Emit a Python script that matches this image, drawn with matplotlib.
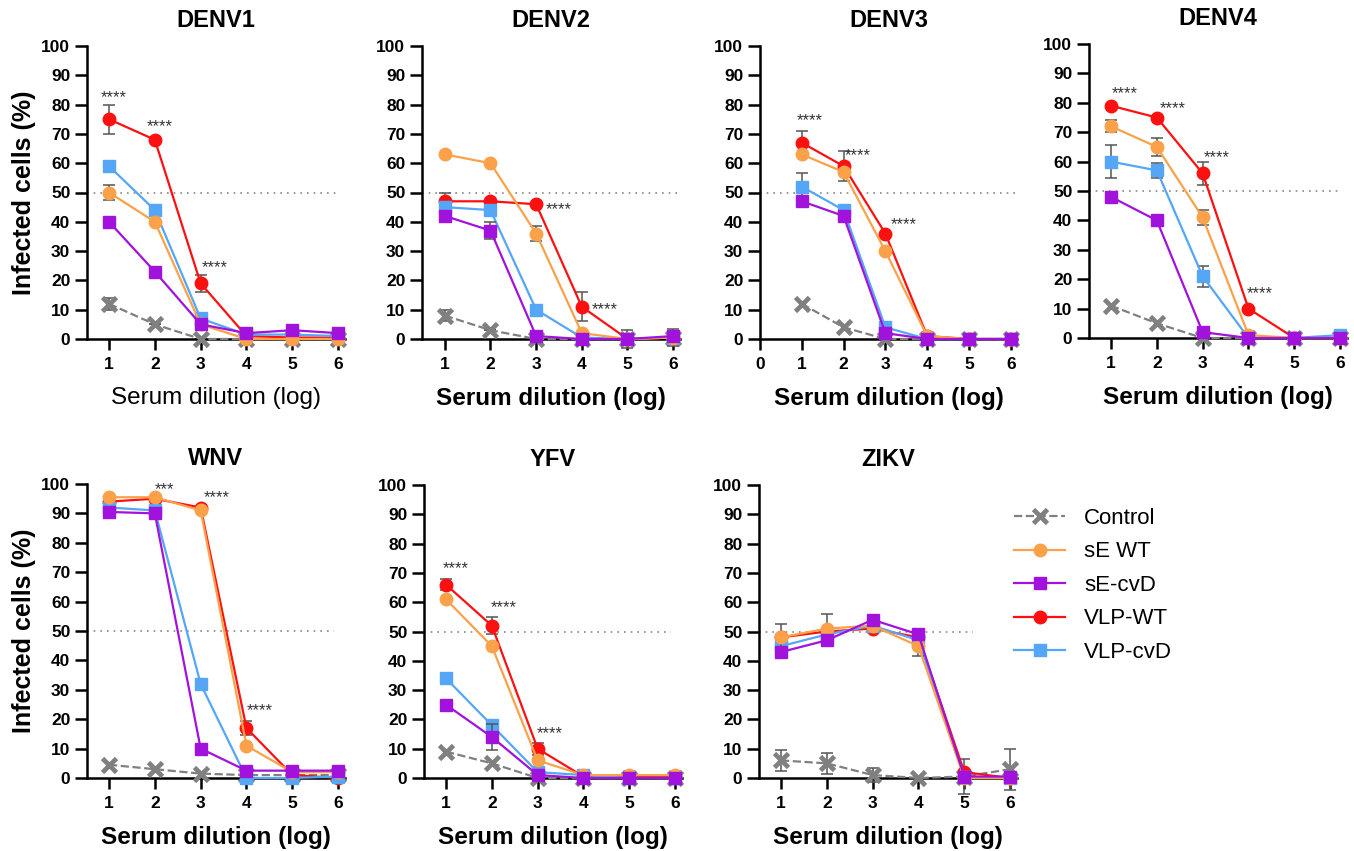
import numpy as np
import matplotlib
matplotlib.use("Agg")
import matplotlib.pyplot as plt

plt.rcParams['font.family'] = ['Liberation Sans', 'DejaVu Sans']

# dilution steps (log)
dilution = [1, 2, 3, 4, 5, 6]

series_names = ["Control", "sE WT", "sE-cvD", "VLP-WT", "VLP-cvD"]

# mean infected cells (%) per panel, order follows series_names
denv1 = {
    "Control": [12, 5, 0, 0, 0, 0],
    "sE WT": [50, 40, 5, 0, 0, 0],
    "sE-cvD": [40, 23, 5, 2, 3, 2],
    "VLP-WT": [75, 68, 19, 1, 0.5, 0.5],
    "VLP-cvD": [59, 44, 7, 1.5, 1.5, 1],
}
denv2 = {
    "Control": [8, 3, 0, 0, 0, 0.5],
    "sE WT": [63, 60, 36, 2, 0, 0.5],
    "sE-cvD": [42, 37, 1, 0, 0, 1],
    "VLP-WT": [47, 47, 46, 11, 0, 0.5],
    "VLP-cvD": [45, 44, 10, 0.5, 0, 0.5],
}
denv3 = {
    "Control": [12, 4, 0, 0, 0, 0],
    "sE WT": [63, 57, 30, 1, 0, 0],
    "sE-cvD": [47, 42, 2, 0, 0, 0],
    "VLP-WT": [67, 59, 36, 1, 0, 0],
    "VLP-cvD": [52, 44, 4, 0, 0, 0],
}
denv4 = {
    "Control": [11, 5, 0, 0, 0, 0],
    "sE WT": [72, 65, 41, 1, 0, 0],
    "sE-cvD": [48, 40, 2, 0, 0, 0],
    "VLP-WT": [79, 75, 56, 10, 0, 0],
    "VLP-cvD": [60, 57, 21, 0, 0, 1],
}
wnv = {
    "Control": [4.5, 3, 1.5, 1, 1, 1],
    "sE WT": [95.5, 95.5, 91, 11, 2, 2],
    "sE-cvD": [90.5, 90, 10, 2.5, 2.5, 2.5],
    "VLP-WT": [94, 95, 92, 17, 1, 0],
    "VLP-cvD": [92, 91, 32, 0, 0, 0.5],
}
yfv = {
    "Control": [9, 5, 0, 0, 0, 0],
    "sE WT": [61, 45, 6, 1, 1, 1],
    "sE-cvD": [25, 14, 1, 0, 0, 0],
    "VLP-WT": [66, 52, 10, 0.5, 0.5, 0.5],
    "VLP-cvD": [34, 18, 2, 1, 0, 0],
}
zikv = {
    "Control": [6, 5, 1, 0, 0.5, 3],
    "sE WT": [48, 51, 52, 45, 0, 0],
    "sE-cvD": [43, 47, 54, 49, 0.5, 0.5],
    "VLP-WT": [48, 50, 51, 48, 2, 0],
    "VLP-cvD": [45, 49, 52, 47, 0.5, 0],
}

# error bars, 0 = not visible
denv1_err = {"Control": [2, 0, 0, 0, 0, 0], "sE WT": [2.5, 0, 0, 0, 0, 0],
             "VLP-WT": [5, 0, 3, 0, 0, 0]}
denv2_err = {"Control": [2, 0, 0, 0, 0, 0], "sE WT": [0, 0, 2.5, 0, 0, 0],
             "sE-cvD": [0, 3, 0, 0, 0, 0], "VLP-WT": [3, 0, 0, 5, 3, 3]}
denv3_err = {"VLP-WT": [4, 5, 0, 0, 0, 0], "VLP-cvD": [4.5, 0, 0, 0, 0, 0]}
denv4_err = {"sE WT": [2, 3, 2.5, 0, 0, 0], "VLP-WT": [0, 0, 4, 0, 0, 0],
             "VLP-cvD": [5.5, 2.5, 3.5, 0, 0, 0]}
wnv_err = {"VLP-WT": [0, 0, 0, 2.5, 0, 0]}
yfv_err = {"VLP-WT": [2, 3, 2, 0, 0, 0], "VLP-cvD": [2, 0, 0, 0, 0, 0],
           "sE-cvD": [0, 4.5, 0, 0, 0, 0]}
zikv_err = {"Control": [3.5, 3.5, 2.5, 0, 6, 7], "sE WT": [4.5, 5, 0, 3.5, 0, 0]}

# significance marks: (x, y, text)
denv1_sig = [(1.1, 82.5, "****"), (2.1, 72.5, "****"), (3.3, 24.5, "****")]
denv2_sig = [(3.5, 44, "****"), (4.5, 10, "****")]
denv3_sig = [(1.2, 74.5, "****"), (2.35, 62.5, "****"), (3.45, 39, "****")]
denv4_sig = [(1.3, 83, "****"), (2.35, 78, "****"), (3.3, 61.5, "****"), (4.25, 15, "****")]
wnv_sig = [(2.22, 98, "***"), (3.36, 95.5, "****"), (4.28, 23, "****")]
yfv_sig = [(1.22, 71.5, "****"), (2.27, 58, "****"), (3.26, 15, "****")]
zikv_sig = []

styles = {
    "Control": dict(color="#808080", marker="x", ls="--", ms=9.5, mew=3.4, lw=1.6),
    "sE WT": dict(color="#FBA14A", marker="o", ls="-", ms=9, lw=1.6),
    "sE-cvD": dict(color="#A112DC", marker="s", ls="-", ms=8.5, lw=1.6),
    "VLP-WT": dict(color="#FF1010", marker="o", ls="-", ms=9, lw=1.6),
    "VLP-cvD": dict(color="#55A6F6", marker="s", ls="-", ms=8.5, lw=1.6),
}
draw_order = ["Control", "VLP-WT", "VLP-cvD", "sE WT", "sE-cvD"]

W, H = 1354, 851


def rect(l, r, t, b):
    return [l / W, 1 - b / H, (r - l) / W, (b - t) / H]


panels = [
    ("DENV1", denv1, denv1_err, denv1_sig, rect(87, 345, 46, 339), 0.52, True, False, 6.0),
    ("DENV2", denv2, denv2_err, denv2_sig, rect(422, 680, 46, 339), 0.5, False, True, 6.1),
    ("DENV3", denv3, denv3_err, denv3_sig, rect(760, 1017, 46, 339), 0.0, False, True, 6.2),
    ("DENV4", denv4, denv4_err, denv4_sig, rect(1089, 1347, 44, 338), 0.52, False, True, 6.0),
    ("WNV", wnv, wnv_err, wnv_sig, rect(87, 345, 484, 778), 0.52, True, True, 5.9),
    ("YFV", yfv, yfv_err, yfv_sig, rect(424, 682, 485, 778), 0.52, False, True, 5.9),
    ("ZIKV", zikv, zikv_err, zikv_sig, rect(759, 1017, 485, 778), 0.52, False, True, 5.2),
]

fig = plt.figure(figsize=(W / 100, H / 100), dpi=100)

handles = {}
for title, data, errs, sigs, pos, x0, ylab, bold_x, dot_end in panels:
    ax = fig.add_axes(pos)
    # 50% reference line
    ax.plot([x0, dot_end], [50, 50], ls=(0, (1, 3)), color="#888888", lw=1.2, zorder=1)
    for k, name in enumerate(draw_order):
        st = styles[name]
        y = data[name]
        e = errs.get(name)
        if e is not None and any(v > 0 for v in e):
            ax.errorbar(dilution, y, yerr=e, fmt="none", ecolor="#555555",
                        elinewidth=1.1, capsize=4, capthick=1.1, zorder=2 + k,
                        clip_on=False)
        ln, = ax.plot(dilution, y, color=st["color"], marker=st["marker"], ls=st["ls"],
                      lw=st["lw"], ms=st["ms"], mew=st.get("mew", 1),
                      mfc=st["color"], mec=st["color"], clip_on=False,
                      zorder=3 + k, label=name)
        handles[name] = ln
    for sx, sy, txt in sigs:
        ax.text(sx, sy, txt, ha="center", va="center", fontsize=12, color="#333333")

    ax.set_xlim(x0, 6.15)
    ax.set_ylim(0, 100)
    ax.set_yticks(range(0, 101, 10))
    if x0 == 0:
        ax.set_xticks(range(0, 7))
    else:
        ax.set_xticks(dilution)
    for sp in ["top", "right"]:
        ax.spines[sp].set_visible(False)
    for sp in ["left", "bottom"]:
        ax.spines[sp].set_linewidth(1.8)
    ax.tick_params(axis="both", direction="out", width=1.8, labelsize=12.5)
    ax.tick_params(axis="y", length=9, pad=3)
    ax.tick_params(axis="x", length=8, pad=5)
    for lab in ax.get_xticklabels() + ax.get_yticklabels():
        lab.set_fontweight("bold")
    ax.set_title(title, fontsize=17, fontweight="bold", pad=14)
    ax.set_xlabel("Serum dilution (log)", fontsize=17.5,
                  fontweight="bold" if bold_x else "normal", labelpad=11)
    if ylab:
        ax.set_ylabel("Infected cells (%)", fontsize=18, fontweight="bold", labelpad=4)

fig.legend([handles[n] for n in series_names], series_names,
           loc="upper left", bbox_to_anchor=(994 / W, 1 - 488 / H),
           frameon=False, fontsize=16, handlelength=2.3, handletextpad=0.85,
           labelspacing=0.56)

fig.savefig("out.png", dpi=100)
